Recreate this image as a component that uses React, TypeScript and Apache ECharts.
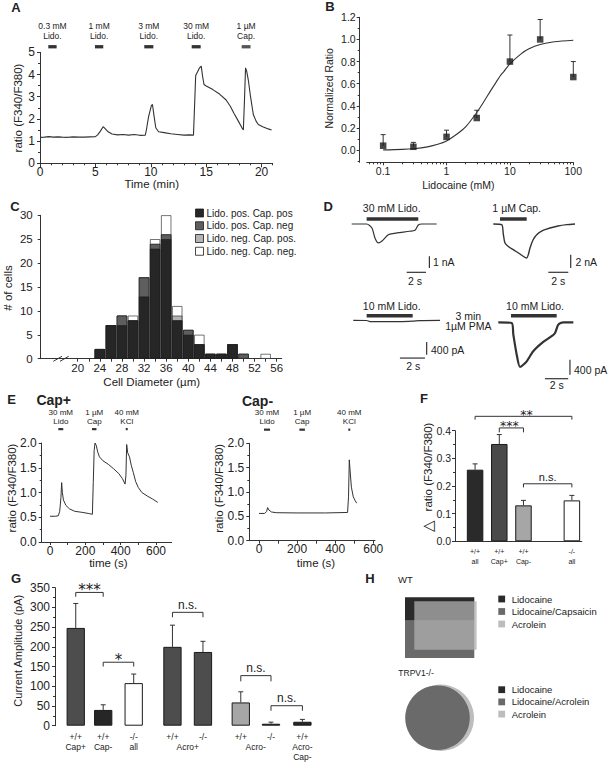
import React, { useEffect, useRef } from "react";
import * as echarts from "echarts";

const FONT = "'Liberation Sans', Arial, Helvetica, sans-serif";
const SYM_FONT = "'DejaVu Sans', sans-serif";
const INK = "#222";
const LINE = "#333";

// ---------------- Panel A : ratio trace vs time (min) ----------------
const aTrace = [
  [0, 1.17], [0.4, 1.18], [0.8, 1.2], [1.2, 1.18], [1.6, 1.19], [2, 1.18], [2.5, 1.17], [3, 1.19], [3.5, 1.18],
  [4, 1.18], [4.5, 1.19], [5, 1.2], [5.2, 1.28], [5.45, 1.45], [5.7, 1.65], [5.9, 1.55], [6.15, 1.42], [6.5, 1.32],
  [7, 1.28], [7.5, 1.3], [8, 1.27], [8.5, 1.3], [9, 1.26], [9.5, 1.27], [9.6, 1.5], [9.8, 2.1], [10.05, 2.6],
  [10.15, 2.65], [10.3, 2.1], [10.45, 1.6], [10.7, 1.42], [11.2, 1.38], [11.8, 1.33], [12.4, 1.3], [13, 1.27],
  [13.5, 1.28], [13.85, 1.27], [13.95, 2.6], [14.05, 3.95], [14.2, 4.1], [14.4, 4.3], [14.55, 4.38], [14.68, 3.9],
  [14.8, 3.55], [15, 3.48], [15.3, 3.4], [15.6, 3.32], [16.2, 3.12], [16.8, 2.85], [17.2, 2.55], [17.5, 2.25],
  [17.9, 1.9], [18.2, 1.62], [18.35, 1.5], [18.45, 2.8], [18.55, 4.3], [18.65, 4.15], [18.8, 3.75], [19.0, 3.0],
  [19.25, 2.2], [19.5, 1.9], [19.7, 1.75], [20.1, 1.65], [20.6, 1.55], [20.9, 1.5],
];
const aXTicks = [0, 5, 10, 15, 20];
const aXMinor = [1, 2, 3, 4, 6, 7, 8, 9, 11, 12, 13, 14, 16, 17, 18, 19, 21];
const aStimStart = [0.75, 4.96, 9.41, 13.69, 18.2];
const aStimEnd = [1.5, 5.71, 10.23, 14.5, 19.0];
const aStimLabels = ["0.3 mM\nLido.", "1 mM\nLido.", "3 mM\nLido.", "30 mM\nLido.", "1 µM\nCap."];
const aStimLevel = 5.25;

// ---------------- Panel B : dose response ----------------
const bConc = [0.1, 0.3, 1, 3, 10, 30, 100];
const bMean = [0.04, 0.03, 0.12, 0.29, 0.8, 1.0, 0.66];
const bErrTop = [0.14, 0.07, 0.18, 0.36, 1.04, 1.18, 0.8];
const bFitConc = [0.1, 0.2, 0.3, 0.5, 0.7, 1, 1.5, 2, 3, 4, 5, 6, 7, 8, 10, 15, 20, 30, 50, 100];
const bFitVal = [0.002, 0.007, 0.013, 0.029, 0.05, 0.083, 0.15, 0.21, 0.34, 0.45, 0.54, 0.61, 0.67, 0.71, 0.78, 0.87, 0.915, 0.954, 0.979, 0.993];
const bXTicks = [0.1, 1, 10, 100];
const bXMinor = [0.06, 0.07, 0.08, 0.09, 0.2, 0.3, 0.4, 0.5, 0.6, 0.7, 0.8, 0.9, 2, 3, 4, 5, 6, 7, 8, 9, 20, 30, 40, 50, 60, 70, 80, 90];
const bYTicks = [0, 0.2, 0.4, 0.6, 0.8, 1.0, 1.2];
const bYMinor = [-0.1, 0.1, 0.3, 0.5, 0.7, 0.9, 1.1];

// ---------------- Panel C : histogram ----------------
const cDiam = [24, 26, 28, 30, 32, 34, 36, 38, 40, 42, 44, 46, 48, 50, 52, 54];
const cLidoPosCapPos = [2, 7, 7, 8, 13, 23, 25, 8, 5, 3, 1, 1, 3, 0, 0, 0];
const cLidoPosCapNeg = [0, 0, 2, 0, 4, 1, 1, 0, 1, 0, 0, 0, 0, 1, 0, 0];
const cLidoNegCapPos = [0, 0, 0, 0, 0, 0, 0, 1, 0, 0, 0, 0, 0, 0, 0, 0];
const cLidoNegCapNeg = [0, 0, 0, 1, 0, 1, 4, 2, 0, 2, 0, 0, 0, 0, 0, 1];
const cNames = ["Lido. pos. Cap. pos", "Lido. pos. Cap. neg", "Lido. neg. Cap. pos.", "Lido. neg. Cap. neg."];
const cColors = ["#262626", "#5e5e5e", "#b3b3b3", "#ffffff"];
const cXTicks = [20, 22, 24, 26, 28, 30, 32, 34, 36, 38, 40, 42, 44, 46, 48, 50, 52, 54, 56];
const cXLabels = [20, 24, 28, 32, 36, 40, 44, 48, 52, 56];

// ---------------- Panel D : current traces (time s, current) ----------------
const d1Trace = [[0, 0], [1.55, 0], [2.1, -0.34], [2.41, -1.2], [2.76, -1.62], [3.14, -1.45], [3.79, -0.91], [4.4, -0.8], [5.0, -0.73], [6.0, -0.62], [6.56, -0.54], [6.9, -0.09], [7.28, 0], [8.8, 0]];
const d2Trace = [[0, 0], [0.84, -0.1], [1.0, -1.5], [1.17, -2.85], [1.57, -3.45], [2.0, -3.85], [2.67, -4.5], [3.34, -5.1], [3.5, -4.6], [3.67, -3.6], [3.97, -2.4], [4.34, -1.6], [4.97, -0.97], [5.67, -0.6], [6.47, -0.3], [7.34, -0.1], [8.17, 0]];
const d3Trace = [[0, 0], [1.07, -6], [1.34, -38], [2.5, -40], [3.73, -38], [4.75, -22], [5.34, -6], [6.94, 0]];
const d4Trace = [[0, 0], [1.15, -19], [1.29, -331], [1.58, -864], [1.86, -1192], [2.12, -1139], [2.44, -1040], [3.0, -773], [3.86, -525], [4.61, -365], [4.87, -285], [5.15, -64], [5.58, 0], [6.44, 0]];
// stimulus bars [t0, y, t1, y]; scale bars [x1, y1, x2, y2]
const d1Stim = [[1.55, 0.43, 6.9, 0.43]];
const d1Scale = [[8.05, -2.76, 8.05, -3.76], [5.7, -4.13, 7.7, -4.13]];
const d2Stim = [[0.67, 0.75, 3.34, 0.75]];
const d2Scale = [[7.74, -4.6, 7.74, -6.6], [5.5, -7.24, 7.5, -7.24]];
const d3Stim = [[1.07, 145, 4.75, 145]];
const d3Scale = [[5.87, -685, 5.87, -1085], [3.73, -1189, 5.73, -1189]];
const d4Stim = [[1.09, 176, 5.01, 176]];
const d4Scale = [[6.15, -997, 6.15, -1397], [4.0, -1504, 6.0, -1504]];

// ---------------- Panel E : Cap+ / Cap- traces ----------------
const ePlusTrace = [
  [0, 0.52], [30, 0.52], [47, 0.53], [55, 0.62], [62, 0.9], [66, 1.2], [70, 1.0], [76, 0.85], [90, 0.74], [110, 0.67],
  [140, 0.62], [180, 0.6], [220, 0.575], [240, 0.56], [245, 1.2], [250, 1.85], [255, 2.0], [262, 1.95], [270, 1.82],
  [280, 1.72], [300, 1.64], [330, 1.57], [360, 1.48], [390, 1.38], [410, 1.28], [425, 1.17], [430, 1.35], [434, 1.97],
  [440, 1.8], [450, 1.72], [460, 1.55], [472, 1.4], [485, 1.22], [500, 1.1], [520, 1.0], [550, 0.93], [580, 0.87], [610, 0.8],
];
const eMinusTrace = [
  [0, 0.56], [30, 0.56], [40, 0.6], [45, 0.68], [52, 0.63], [65, 0.59], [90, 0.575], [200, 0.57], [350, 0.57],
  [465, 0.58], [470, 0.9], [474, 1.66], [478, 1.45], [485, 1.1], [495, 0.9], [505, 0.82], [513, 0.77],
];
const eXTicks = [0, 100, 200, 300, 400, 500, 600];
const eXLabels = [0, 200, 400, 600];
const ePlusStimStart = [47, 238, 431];
const ePlusStimEnd = [75, 263, 438];
const eMinusStimStart = [26, 212, 470];
const eMinusStimEnd = [58, 241, 478];
const eStimLabels = ["30 mM\nLido", "1 µM\nCap", "40 mM\nKCl"];
const eStimLevel = 2.28;

// ---------------- Panel F ----------------
const fPos = [1, 2, 3, 5];
const fLabels = ["+/+\nall", "+/+\nCap+", "+/+\nCap-", "-/-\nall"];
const fMean = [0.259, 0.352, 0.13, 0.148];
const fErrTop = [0.28, 0.386, 0.148, 0.166];
const fColors = ["#2a2a2a", "#4a4a4a", "#a6a6a6", "#ffffff"];
const fBrackets = [[1, 5, 0.452, 0.44], [2, 3, 0.41, 0.394], [3, 5, 0.208, 0.195]];
const fBracketText = ["**", "***", "n.s."];
const fTextShift = [3, -2, 0]; // small horizontal nudges (px) so the star labels do not collide

// ---------------- Panel G ----------------
const gPos = [1, 1.9, 2.9, 4.17, 5.17, 6.41, 7.4, 8.43];
const gLabels = ["+/+\nCap+", "+/+\nCap-", "-/-\nall", "+/+", "-/-", "+/+", "-/-", "+/+\nAcro-\nCap-"];
const gGroupPos = [4.67, 6.9];
const gGroupLabels = ["Acro+", "Acro-"];
const gMean = [248, 40, 108, 200, 187, 59, 5, 10];
const gErrTop = [310, 53, 131, 255, 214, 86, 9, 16];
const gColors = ["#4d4d4d", "#262626", "#ffffff", "#4d4d4d", "#4d4d4d", "#a6a6a6", "#262626", "#262626"];
const gBrackets = [[1, 1.9, 338, 327], [1.9, 2.9, 161, 150], [4.17, 5.17, 287.5, 275], [6.41, 7.4, 127, 112.5], [7.4, 8.43, 50.7, 38]];
const gBracketText = ["***", "*", "n.s.", "n.s.", "n.s."];
const gTextShift = [0, 0, 0, 0, 0];

// ---------------- Panel H ----------------
const hWTLegend = ["Lidocaine", "Lidocaine/Capsaicin", "Acrolein"];
const hKOLegend = ["Lidocaine", "Lidocaine/Acrolein", "Acrolein"];
const hColors = ["#2a2a2a", "#6a6a6a", "#bdbdbd"];

function buildOption() {
  const grid: any[] = [];
  const xAxis: any[] = [];
  const yAxis: any[] = [];
  const series: any[] = [];
  const graphic: any[] = [];

  const addGrid = (r: any) => { grid.push(r); return grid.length - 1; };
  const addX = (a: any) => { xAxis.push({ type: "value", splitLine: { show: false }, ...a }); return xAxis.length - 1; };
  const addY = (a: any) => { yAxis.push({ type: "value", splitLine: { show: false }, ...a }); return yAxis.length - 1; };
  const axLine = { show: true, onZero: false, lineStyle: { color: LINE, width: 1 } };
  const tick = (extra: any = {}) => ({ show: true, length: 3, lineStyle: { color: LINE, width: 1 }, ...extra });
  const lbl = (size: number, extra: any = {}) => ({ show: true, color: INK, fontSize: size, fontFamily: FONT, margin: 4, ...extra });
  const hidden = (isX: boolean, gridIndex: number, min: number, max: number) =>
    (isX ? addX : addY)({ gridIndex, min, max, show: false });
  const minor = (isX: boolean, gridIndex: number, min: number, max: number, values: number[], extra: any = {}) =>
    (isX ? addX : addY)({
      gridIndex, min, max, position: isX ? "bottom" : "left",
      axisLine: { show: false, onZero: false }, axisLabel: { show: false },
      axisTick: { show: true, length: 2, customValues: values, lineStyle: { color: LINE, width: 1 } },
      ...extra,
    });

  const lineS = (xi: number, yi: number, data: any[], width = 1.1, extra: any = {}) => ({
    type: "line", xAxisIndex: xi, yAxisIndex: yi, data, showSymbol: false, symbol: "none", silent: true, clip: false,
    lineStyle: { color: LINE, width }, ...extra,
  });
  const segS = (xi: number, yi: number, segs: number[][], width: number, color = LINE) => ({
    type: "custom", xAxisIndex: xi, yAxisIndex: yi, clip: false, silent: true, data: segs,
    encode: { x: [0, 2], y: [1, 3] },
    renderItem: (_p: any, api: any) => {
      const a = api.coord([api.value(0), api.value(1)]);
      const b = api.coord([api.value(2), api.value(3)]);
      return { type: "line", shape: { x1: a[0], y1: a[1], x2: b[0], y2: b[1] }, style: { stroke: color, lineWidth: width, lineCap: "butt" } };
    },
  });
  const errS = (xi: number, yi: number, xs: number[], ys: number[], tops: number[], cap: number) => ({
    type: "custom", xAxisIndex: xi, yAxisIndex: yi, clip: false, silent: true, z: 5,
    data: xs.map((x, i) => [x, ys[i], tops[i]]),
    encode: { x: 0, y: [1, 2] },
    renderItem: (_p: any, api: any) => {
      const a = api.coord([api.value(0), api.value(1)]);
      const b = api.coord([api.value(0), api.value(2)]);
      return {
        type: "group",
        children: [
          { type: "line", shape: { x1: a[0], y1: a[1], x2: b[0], y2: b[1] }, style: { stroke: LINE, lineWidth: 1 } },
          { type: "line", shape: { x1: b[0] - cap, y1: b[1], x2: b[0] + cap, y2: b[1] }, style: { stroke: LINE, lineWidth: 1 } },
        ],
      };
    },
  });
  const brS = (xi: number, yi: number, items: number[][], texts: string[], shifts: number[], nsSize: number, starSize: number) => ({
    type: "custom", xAxisIndex: xi, yAxisIndex: yi, clip: false, silent: true, data: items,
    encode: { x: [0, 1], y: [2, 3] },
    renderItem: (p: any, api: any) => {
      const x1 = api.value(0), x2 = api.value(1), y = api.value(2), leg = api.value(3);
      const a = api.coord([x1, leg]), b = api.coord([x1, y]), c = api.coord([x2, y]), d = api.coord([x2, leg]);
      const t = texts[p.dataIndex];
      const star = t.indexOf("*") >= 0;
      return {
        type: "group",
        children: [
          { type: "polyline", shape: { points: [a, b, c, d] }, style: { stroke: LINE, lineWidth: 1, fill: "none" } },
          {
            type: "text", x: (b[0] + c[0]) / 2 + shifts[p.dataIndex], y: star ? b[1] - 2 : b[1] - 1,
            style: {
              text: t, fill: INK, textAlign: "center", align: "center",
              textVerticalAlign: star ? "middle" : "bottom", verticalAlign: star ? "middle" : "bottom",
              font: star ? `${starSize}px ${SYM_FONT}` : `${nsSize}px ${FONT}`,
              lineHeight: star ? Math.round(starSize * 0.55) : Math.round(nsSize * 1.05),
            },
          },
        ],
      };
    },
  });
  const stimS = (xi: number, yi: number, starts: number[], ends: number[], level: number, labels: string[],
    h: number, gap: number, size: number, lh: number, colors: string[]) => ({
    type: "custom", xAxisIndex: xi, yAxisIndex: yi, clip: false, silent: true,
    data: starts.map((s, i) => [s, ends[i], level]),
    encode: { x: [0, 1], y: 2 },
    renderItem: (p: any, api: any) => {
      const a = api.coord([api.value(0), api.value(2)]);
      const b = api.coord([api.value(1), api.value(2)]);
      const w = Math.max(b[0] - a[0], 2);
      const cx = (a[0] + b[0]) / 2;
      return {
        type: "group",
        children: [
          { type: "rect", shape: { x: cx - w / 2, y: a[1] - h / 2, width: w, height: h }, style: { fill: colors[p.dataIndex] } },
          {
            type: "text", x: cx, y: a[1] - gap,
            style: {
              text: labels[p.dataIndex], fill: INK, textAlign: "center", align: "center",
              textVerticalAlign: "bottom", verticalAlign: "bottom", font: `${size}px ${FONT}`, lineHeight: lh,
            },
          },
        ],
      };
    },
  });

  const T = (text: string, x: number, y: number, size: number, o: any = {}) => ({
    type: "text", x, y, rotation: o.rot || 0, silent: true, z: 10,
    style: {
      text, fill: o.color || INK, font: `${o.bold ? "bold " : ""}${size}px ${o.family || FONT}`,
      textAlign: o.align || "center", align: o.align || "center",
      textVerticalAlign: o.valign || "middle", verticalAlign: o.valign || "middle",
      lineHeight: o.lh || Math.round(size * 1.15),
    },
  });
  const R = (x: number, y: number, w: number, h: number, fill: string, extra: any = {}) => ({
    type: "rect", silent: true, shape: { x, y, width: w, height: h }, style: { fill, ...extra },
  });
  const L = (x1: number, y1: number, x2: number, y2: number, width = 1, color = LINE) => ({
    type: "line", silent: true, shape: { x1, y1, x2, y2 }, style: { stroke: color, lineWidth: width },
  });
  const rot = Math.PI / 2;

  // ===== Panel A =====
  const gA = addGrid({ left: 40, top: 52.3, width: 232.7, height: 111 });
  const xA = addX({
    gridIndex: gA, min: 0, max: 21, position: "bottom", axisLine: axLine,
    axisTick: tick({ length: 4, customValues: aXTicks }),
    axisLabel: lbl(12, { customValues: aXTicks, margin: 3 }),
  });
  minor(true, gA, 0, 21, aXMinor);
  const yA = addY({
    gridIndex: gA, min: 0, max: 5, interval: 1, position: "left", axisLine: axLine,
    axisTick: tick(), minorTick: { show: true, splitNumber: 2, length: 2, lineStyle: { color: LINE } },
    axisLabel: lbl(12, { margin: 5 }),
  });
  series.push(lineS(xA, yA, aTrace, 1.1));
  series.push(stimS(xA, yA, aStimStart, aStimEnd, aStimLevel, aStimLabels, 3.3, 6.5, 8.5, 9.3,
    ["#333", "#333", "#333", "#333", "#555"]));
  graphic.push(T("A", 16, 7.5, 13, { bold: true }));
  graphic.push(T("ratio (F340/F380)", 17.5, 108, 11.5, { rot }));
  graphic.push(T("Time (min)", 151.7, 184, 11.5));

  // ===== Panel B =====
  const gB = addGrid({ left: 366.7, top: 17.3, width: 206.6, height: 145 });
  const logFmt = (v: number) => (v < 1 ? v.toFixed(1) : String(Math.round(v)));
  const xB = addX({
    type: "log", logBase: 10, gridIndex: gB, min: 0.055, max: 100, position: "bottom", axisLine: axLine,
    axisTick: tick({ customValues: bXTicks }),
    axisLabel: lbl(10.5, { customValues: bXTicks, formatter: logFmt, margin: 3 }),
  });
  minor(true, gB, 0.055, 100, bXMinor, { type: "log", logBase: 10 });
  const yB = addY({
    gridIndex: gB, min: -0.11, max: 1.2, position: "left", offset: 7, axisLine: axLine,
    axisTick: tick({ customValues: bYTicks }),
    axisLabel: lbl(10.5, { customValues: bYTicks, formatter: (v: number) => v.toFixed(1), margin: 4 }),
  });
  minor(false, gB, -0.11, 1.2, bYMinor, { offset: 7 });
  series.push(lineS(xB, yB, bFitConc.map((c, i) => [c, bFitVal[i]]), 1.1, { smooth: 0.3 }));
  series.push(errS(xB, yB, bConc, bMean, bErrTop, 2.5));
  series.push({
    type: "scatter", xAxisIndex: xB, yAxisIndex: yB, symbol: "rect", symbolSize: 6.5, silent: true, z: 6,
    itemStyle: { color: "#1a1a1a" }, data: bConc.map((c, i) => [c, bMean[i]]),
  });
  graphic.push(T("B", 330, 6, 13, { bold: true }));
  graphic.push(T("Normalized Ratio", 329, 88.3, 10.5, { rot }));
  graphic.push(T("Lidocaine (mM)", 458.3, 184.5, 10.5));

  // ===== Panel C =====
  const gC = addGrid({ left: 40.7, top: 215.3, width: 241, height: 143.4 });
  const xC = addX({
    gridIndex: gC, min: 13.3, max: 56.9, position: "bottom", axisLine: axLine,
    axisTick: tick({ customValues: cXTicks }),
    axisLabel: lbl(11.5, { customValues: cXLabels, margin: 3.5 }),
  });
  const yC = addY({
    gridIndex: gC, min: 0, max: 30, interval: 5, position: "left", axisLine: axLine,
    axisTick: tick(), axisLabel: lbl(11.5, { margin: 8 }),
  });
  // stacked segments: cumulative tops, drawn from the total down so each lower segment covers the one above it
  const cGroups = [cLidoPosCapPos, cLidoPosCapNeg, cLidoNegCapPos, cLidoNegCapNeg];
  const cCum: number[][] = [];
  cGroups.forEach((vals, k) => {
    cCum.push(vals.map((v, i) => v + (k > 0 ? cCum[k - 1][i] : 0)));
  });
  for (let k = cGroups.length - 1; k >= 0; k--) {
    series.push({
      type: "bar", name: cNames[k], xAxisIndex: xC, yAxisIndex: yC, barWidth: 10.2, barGap: "-100%", silent: true,
      itemStyle: { color: cColors[k], borderColor: "#1a1a1a", borderWidth: 0.6 },
      data: cDiam.map((d, i) => [d, cCum[k][i] === 0 ? null : cCum[k][i]]),
    });
  }
  // axis break
  graphic.push(R(58, 357, 7, 4, "#fff"));
  graphic.push(L(53.3, 361.3, 62, 356.3, 1));
  graphic.push(L(60, 361.3, 68.7, 356.3, 1));
  cNames.forEach((n, i) => {
    const cy = 213 + i * 12.75;
    graphic.push(R(195.5, cy - 4, 8, 8, cColors[i], { stroke: "#1a1a1a", lineWidth: 0.8 }));
    graphic.push(T(n, 206.5, cy, 10, { align: "left" }));
  });
  graphic.push(T("C", 15, 206, 13, { bold: true }));
  graphic.push(T("# of cells", 7.5, 288, 11.5, { rot }));
  graphic.push(T("Cell Diameter (µm)", 151.7, 382, 11.5));

  // ===== Panel D =====
  const dPanels = [
    { r: { left: 351.7, top: 214.64, width: 86.85, height: 60.84 }, x: [0, 9], y: [-4.4, 0.8], tr: d1Trace, st: d1Stim, sc: d1Scale, w: 1.2 },
    { r: { left: 493.3, top: 216, width: 85, height: 58.7 }, x: [0, 8.5], y: [-7.6, 1.2], tr: d2Trace, st: d2Stim, sc: d2Scale, w: 1.4 },
    { r: { left: 353.3, top: 312.4, width: 90, height: 49.2 }, x: [0, 7.2], y: [-1300, 250], tr: d3Trace, st: d3Stim, sc: d3Scale, w: 1.2 },
    { r: { left: 498.3, top: 312.9, width: 76.9, height: 69.4 }, x: [0, 6.6], y: [-1600, 250], tr: d4Trace, st: d4Stim, sc: d4Scale, w: 2.2 },
  ];
  dPanels.forEach((d) => {
    const g = addGrid(d.r);
    const xi = hidden(true, g, d.x[0], d.x[1]);
    const yi = hidden(false, g, d.y[0], d.y[1]);
    series.push(lineS(xi, yi, d.tr, d.w, { smooth: 0.25 }));
    series.push(segS(xi, yi, d.st, 3.5));
    series.push(segS(xi, yi, d.sc, 1.2));
  });
  graphic.push(T("D", 328.3, 206.3, 13, { bold: true }));
  graphic.push(T("30 mM Lido.", 391.7, 208, 10.5));
  graphic.push(T("1 µM Cap.", 516.7, 208, 10.5));
  graphic.push(T("1 nA", 433, 262.3, 10.5, { align: "left" }));
  graphic.push(T("2 s", 415, 280.5, 10.5));
  graphic.push(T("2 nA", 575.5, 261.5, 10.5, { align: "left" }));
  graphic.push(T("2 s", 558.3, 280.5, 10.5));
  graphic.push(T("10 mM Lido.", 391.7, 306.3, 10.5));
  graphic.push(T("3 min", 468.3, 315.7, 10.5));
  graphic.push(T("1µM PMA", 468.3, 326.2, 10.5));
  graphic.push(T("400 pA", 431, 350.3, 10.5, { align: "left" }));
  graphic.push(T("2 s", 413.3, 366, 10.5));
  graphic.push(T("10 mM Lido.", 535, 306.3, 10.5));
  graphic.push(T("400 pA", 574, 370.3, 10.5, { align: "left" }));
  graphic.push(T("2 s", 556.7, 385, 10.5));

  // ===== Panel E =====
  const ePanels = [
    { r: { left: 41.7, top: 443, width: 130, height: 99 }, x: [-47, 689], tr: ePlusTrace, s0: ePlusStimStart, s1: ePlusStimEnd },
    { r: { left: 249.3, top: 443.3, width: 125.7, height: 97.4 }, x: [-51, 609], tr: eMinusTrace, s0: eMinusStimStart, s1: eMinusStimEnd },
  ];
  ePanels.forEach((e) => {
    const g = addGrid(e.r);
    const xi = addX({
      gridIndex: g, min: e.x[0], max: e.x[1], position: "bottom", axisLine: axLine,
      axisTick: tick({ customValues: eXTicks }),
      axisLabel: lbl(12, { customValues: eXLabels, margin: 2.5 }),
    });
    const yi = addY({
      gridIndex: g, min: 0, max: 2, interval: 0.5, position: "left", axisLine: axLine,
      axisTick: tick(), minorTick: { show: true, splitNumber: 2, length: 2, lineStyle: { color: LINE } },
      axisLabel: lbl(12, { formatter: (v: number) => v.toFixed(1), margin: 5 }),
    });
    series.push(lineS(xi, yi, e.tr, 1.0));
    series.push(stimS(xi, yi, e.s0, e.s1, eStimLevel, eStimLabels, 2.2, 3.2, 8, 9, ["#333", "#333", "#333"]));
  });
  graphic.push(T("E", 11.7, 399.5, 13, { bold: true }));
  graphic.push(T("Cap+", 53.7, 400, 14, { bold: true }));
  graphic.push(T("Cap-", 257.5, 400.5, 14, { bold: true }));
  graphic.push(T("ratio (F340/F380)", 11.7, 488, 11.5, { rot }));
  graphic.push(T("time (s)", 108.3, 563, 11.5));
  graphic.push(T("ratio (F340/F380)", 219, 488.3, 11.5, { rot }));
  graphic.push(T("time (s)", 316, 563, 11.5));

  // ===== Panel F =====
  const gF = addGrid({ left: 455, top: 430.7, width: 126.8, height: 110.6 });
  const posLabel = (pos: number[], labels: string[], gPosArr: number[] = [], gLab: string[] = []) => (v: number) => {
    for (let i = 0; i < pos.length; i++) if (Math.abs(pos[i] - v) < 1e-6) return labels[i];
    for (let i = 0; i < gPosArr.length; i++) if (Math.abs(gPosArr[i] - v) < 1e-6) return "\n" + gLab[i];
    return "";
  };
  const xF = addX({
    gridIndex: gF, min: 0.17, max: 5.41, position: "bottom", axisLine: axLine, axisTick: { show: false },
    axisLabel: lbl(7, { customValues: fPos, formatter: posLabel(fPos, fLabels), margin: 5, lineHeight: 10 }),
  });
  const yF = addY({
    gridIndex: gF, min: 0, max: 0.4, interval: 0.1, position: "left", axisLine: axLine,
    axisTick: tick(), minorTick: { show: true, splitNumber: 2, length: 2, lineStyle: { color: LINE } },
    axisLabel: lbl(10.5, { formatter: (v: number) => v.toFixed(1), margin: 4 }),
  });
  series.push({
    type: "bar", xAxisIndex: xF, yAxisIndex: yF, barWidth: 16.5, silent: true,
    itemStyle: { borderColor: "#1a1a1a", borderWidth: 1 },
    data: fPos.map((p, i) => ({ value: [p, fMean[i]], itemStyle: { color: fColors[i] } })),
  });
  series.push(errS(xF, yF, fPos, fMean, fErrTop, 2.5));
  series.push(brS(xF, yF, fBrackets, fBracketText, fTextShift, 11, 12.5));
  graphic.push(T("F", 424, 398, 13, { bold: true }));
  graphic.push(T("ratio (F340/F380)", 428.3, 467, 11.5, { rot }));
  graphic.push(T("△", 428.3, 526.3, 15, { rot, family: SYM_FONT }));

  // ===== Panel G =====
  const gG = addGrid({ left: 55, top: 587.7, width: 264.8, height: 138 });
  const xG = addX({
    gridIndex: gG, min: 0.32, max: 9, position: "bottom", axisLine: { show: false, onZero: false }, axisTick: { show: false },
    axisLabel: lbl(8.5, { customValues: [...gPos, ...gGroupPos], formatter: posLabel(gPos, gLabels, gGroupPos, gGroupLabels), margin: 6.6, lineHeight: 10 }),
  });
  const yG = addY({
    gridIndex: gG, min: 0, max: 350, interval: 50, position: "left", axisLine: axLine,
    axisTick: tick(), minorTick: { show: true, splitNumber: 2, length: 2, lineStyle: { color: LINE } },
    axisLabel: lbl(12, { margin: 5 }),
  });
  series.push({
    type: "bar", xAxisIndex: xG, yAxisIndex: yG, barWidth: 18.3, silent: true,
    itemStyle: { borderColor: "#1a1a1a", borderWidth: 1 },
    data: gPos.map((p, i) => ({ value: [p, gMean[i]], itemStyle: { color: gColors[i] } })),
  });
  series.push(errS(xG, yG, gPos, gMean, gErrTop, 2.5));
  series.push(brS(xG, yG, gBrackets, gBracketText, gTextShift, 12, 15));
  graphic.push(T("G", 16, 578, 13, { bold: true }));
  graphic.push(T("Current Amplitude (pA)", 18.3, 650.7, 11, { rot }));

  // ===== Panel H =====
  graphic.push(T("H", 370, 578.7, 13, { bold: true }));
  graphic.push(T("WT", 398, 579.7, 9.5, { align: "left" }));
  graphic.push(R(405, 597.3, 69.3, 23.4, hColors[0]));
  graphic.push(R(405, 620.7, 69.3, 37.3, hColors[1]));
  graphic.push(R(414.3, 601.3, 62.4, 48.4, "#b0b0b0", { opacity: 0.75 }));
  hWTLegend.forEach((n, i) => {
    const cy = 599 + i * 12.5;
    graphic.push(R(498.3, cy - 3.4, 6.8, 6.8, hColors[i]));
    graphic.push(T(n, 511.7, cy, 9.5, { align: "left" }));
  });
  graphic.push(T("TRPV1-/-", 398.3, 673.3, 8.5, { align: "left" }));
  graphic.push({ type: "circle", silent: true, shape: { cx: 440.8, cy: 717.8, r: 33.2 }, style: { fill: hColors[2] } });
  graphic.push({ type: "circle", silent: true, shape: { cx: 437.5, cy: 717.8, r: 32.3 }, style: { fill: hColors[1] } });
  hKOLegend.forEach((n, i) => {
    const cy = 689.7 + i * 12.2;
    graphic.push(R(498.3, cy - 3.4, 6.8, 6.8, hColors[i]));
    graphic.push(T(n, 511.7, cy, 9.5, { align: "left" }));
  });

  return {
    animation: false,
    backgroundColor: "#ffffff",
    textStyle: { fontFamily: FONT },
    grid,
    xAxis,
    yAxis,
    series,
    graphic: { elements: graphic },
  };
}

export default function App() {
  const ref = useRef<HTMLDivElement>(null);
  useEffect(() => {
    document.body.style.margin = "0";
    const chart = echarts.init(ref.current as HTMLDivElement, null, { renderer: "svg" });
    chart.setOption(buildOption() as any);
    return () => chart.dispose();
  }, []);
  return <div ref={ref} style={{ width: 614, height: 764, background: "#fff" }} />;
}
